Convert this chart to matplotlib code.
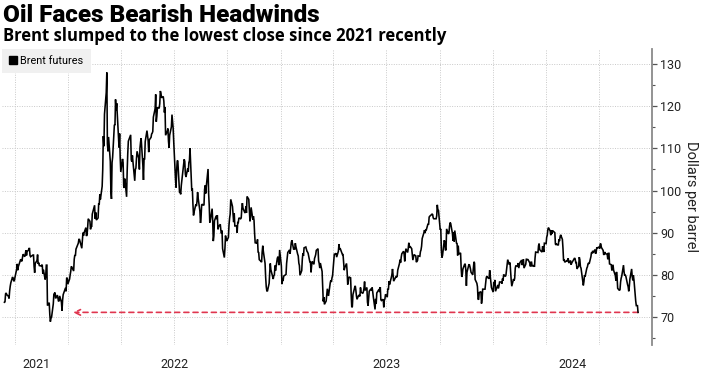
import numpy as np
import pandas as pd
import matplotlib
matplotlib.use("Agg")
import matplotlib.pyplot as plt
import matplotlib.dates as mdates
from matplotlib.lines import Line2D
from matplotlib.ticker import MultipleLocator

# ---------------- data ----------------
title = "Oil Faces Bearish Headwinds"
subtitle = "Brent slumped to the lowest close since 2021 recently"
series_name = "Brent futures"
y_label = "Dollars per barrel"

first_day = "2021-09-13"
last_day = "2024-09-06"
view_start = "2021-09-08"
view_end = "2024-09-30"
lowest_since = "2022-01-09"
year_labels = [2021, 2022, 2023, 2024]
y_ticks = [70, 80, 90, 100, 110, 120, 130]

# closing prices, one list per month (Sep 2021 starts on the 13th)
brent_2021 = [
    [73.5, 73.6, 75.5, 75.7, 75.3, 74.9, 74.4, 76.2, 77.3, 78.1, 79.5, 79.1, 78.6, 78.5],
    [79.3, 81.3, 82.6, 81.1, 82.0, 82.4, 83.7, 83.4, 83.2, 84.0, 84.9, 84.3, 85.1, 85.8,
     84.6, 85.5, 86.0, 86.4, 84.6, 84.3, 84.4],
    [84.7, 84.7, 82.0, 80.5, 82.7, 83.4, 84.8, 82.6, 82.9, 82.2, 82.1, 82.4, 80.3, 81.2,
     78.9, 79.7, 82.3, 82.3, 72.7, 73.4, 70.6],
    [68.9, 69.7, 69.9, 73.1, 75.4, 75.8, 74.4, 75.2, 74.4, 73.7, 73.9, 75.0, 73.5, 71.5,
     74.0, 75.3, 76.9, 76.1, 79.2, 79.3, 77.8],
]
brent_2022 = [
    [79.0, 80.0, 80.8, 82.0, 81.8, 80.9, 83.7, 84.7, 84.5, 86.1, 87.5, 88.4, 88.4, 87.9,
     86.3, 88.2, 90.0, 89.3, 90.0, 91.2],
    [89.2, 89.5, 91.1, 93.3, 92.7, 90.8, 91.6, 91.4, 94.4, 96.5, 93.3, 94.8, 93.0, 93.5,
     96.8, 96.8, 99.1, 97.9, 101.0],
    [105.0, 112.9, 110.5, 118.1, 123.2, 128.0, 111.1, 109.3, 112.7, 106.9, 99.9, 98.0,
     106.6, 107.9, 115.6, 115.5, 121.6, 119.0, 120.7, 112.5, 110.2, 113.5, 107.9],
    [104.4, 107.5, 106.6, 101.1, 100.6, 102.8, 98.5, 104.6, 108.8, 111.7, 113.2, 107.3,
     106.8, 108.3, 106.7, 102.3, 105.0, 105.3, 107.6, 109.3],
    [107.6, 105.0, 110.1, 111.5, 112.4, 105.9, 102.5, 107.5, 107.5, 111.6, 114.2, 111.9,
     109.1, 112.0, 112.6, 113.4, 113.6, 114.0, 117.4, 119.4, 122.8],
    [116.3, 117.6, 119.7, 119.5, 120.6, 123.6, 123.1, 122.0, 122.3, 121.2, 118.5, 119.8,
     113.1, 114.1, 114.7, 111.7, 110.1, 113.1, 115.1, 118.0, 116.3, 114.8],
    [111.6, 102.8, 100.7, 104.7, 107.0, 107.1, 99.5, 99.6, 99.1, 101.2, 106.3, 107.4,
     106.9, 103.9, 103.2, 105.2, 104.4, 106.6, 107.1, 110.0],
    [100.0, 100.5, 96.8, 94.1, 94.9, 96.7, 96.3, 97.4, 99.6, 98.2, 95.1, 92.3, 93.7,
     96.6, 96.7, 96.5, 100.2, 101.2, 99.3, 101.0, 105.1, 99.3, 96.5],
    [92.4, 93.0, 95.7, 92.8, 88.0, 89.2, 92.8, 94.0, 93.2, 94.1, 90.8, 91.4, 92.0, 90.6,
     89.8, 90.5, 86.2, 84.1, 86.3, 89.3, 88.5, 88.0],
    [88.9, 91.8, 93.4, 94.4, 97.9, 96.2, 94.3, 92.5, 94.6, 91.6, 91.6, 90.0, 92.4, 92.4,
     93.5, 93.3, 93.5, 95.7, 97.0, 95.8, 94.8],
    [94.7, 96.2, 94.7, 98.6, 97.9, 95.4, 92.7, 93.7, 96.0, 93.1, 93.9, 92.9, 89.8, 87.6,
     87.5, 88.4, 85.4, 85.3, 83.6, 83.2, 83.0, 85.4],
    [86.9, 85.6, 82.7, 79.4, 77.2, 76.2, 76.1, 78.0, 80.7, 82.7, 81.2, 79.0, 79.8, 80.0,
     82.2, 81.0, 83.9, 84.3, 83.3, 82.3, 85.9],
]
brent_2023 = [
    [82.1, 77.8, 78.7, 78.6, 79.7, 80.1, 82.7, 84.0, 85.3, 85.9, 85.0, 86.2, 87.6, 88.2,
     86.1, 86.1, 87.5, 86.7, 84.9, 84.5],
    [82.8, 82.2, 79.9, 81.0, 83.7, 85.1, 84.5, 86.4, 86.6, 85.6, 85.4, 85.1, 83.0, 83.1,
     80.6, 82.2, 83.2, 82.5, 83.9],
    [84.3, 84.8, 85.8, 86.2, 83.3, 82.7, 81.6, 82.8, 80.8, 77.5, 73.7, 74.7, 73.0, 73.8,
     75.3, 76.7, 75.9, 75.0, 78.1, 78.7, 78.3, 79.3, 79.8],
    [84.9, 84.9, 85.0, 85.1, 84.2, 85.6, 87.3, 86.1, 86.3, 84.8, 84.8, 83.1, 81.1, 81.7,
     82.7, 80.8, 77.7, 78.4, 79.5],
    [79.3, 75.3, 72.3, 72.5, 75.3, 77.0, 77.4, 76.4, 75.0, 74.2, 75.2, 74.9, 77.0, 75.9,
     75.6, 76.0, 76.8, 78.4, 76.3, 77.0, 73.5, 72.7],
    [74.3, 76.1, 76.7, 76.3, 77.0, 76.0, 74.8, 71.8, 74.3, 73.2, 75.7, 76.6, 75.9, 77.1,
     74.1, 73.9, 74.2, 72.3, 74.0, 74.3, 75.4],
    [74.7, 76.7, 76.5, 78.5, 77.7, 79.4, 80.1, 81.4, 79.9, 78.5, 79.6, 79.5, 79.6, 81.1,
     82.7, 83.6, 82.9, 84.2, 85.0, 85.6],
    [84.9, 83.2, 85.1, 86.2, 85.3, 86.2, 87.6, 86.4, 86.8, 86.2, 84.9, 83.5, 84.1, 84.8,
     84.5, 83.0, 83.2, 83.4, 84.5, 84.4, 85.5, 85.9, 86.8],
    [88.6, 90.0, 90.6, 89.9, 90.7, 90.6, 92.1, 91.9, 93.7, 93.9, 94.4, 94.3, 93.5, 93.3,
     93.3, 93.3, 94.0, 96.6, 95.4, 95.3],
    [90.7, 90.9, 85.8, 84.1, 84.6, 88.2, 87.7, 85.8, 86.0, 90.9, 89.7, 89.9, 91.5, 92.4,
     92.2, 89.8, 88.1, 90.1, 87.9, 90.5, 87.5, 87.4],
    [84.6, 86.9, 84.9, 85.2, 81.6, 79.5, 80.0, 81.4, 82.5, 82.5, 81.2, 77.4, 80.6, 82.3,
     82.5, 82.0, 81.4, 80.6, 80.0, 81.7, 83.1, 82.8],
    [78.9, 78.0, 77.2, 74.3, 74.1, 75.8, 76.0, 73.2, 74.3, 76.6, 76.6, 78.0, 79.2, 79.7,
     79.4, 79.1, 81.1, 79.7, 78.4, 77.0],
]
brent_2024 = [
    [75.9, 78.3, 77.6, 78.8, 76.1, 77.6, 76.8, 77.4, 78.3, 78.3, 77.9, 79.1, 78.6, 80.1,
     79.6, 80.0, 82.4, 83.6, 82.4, 82.9, 80.6],
    [78.7, 77.3, 79.0, 78.6, 79.2, 81.6, 82.2, 82.0, 82.8, 81.6, 82.9, 83.5, 82.3, 83.0,
     83.7, 81.6, 82.5, 83.7, 83.7, 83.6],
    [83.6, 82.8, 82.0, 83.0, 83.0, 82.1, 82.2, 81.9, 84.0, 85.4, 85.3, 86.9, 87.4, 86.0,
     85.8, 85.4, 86.8, 86.3, 85.4, 87.5],
    [87.4, 88.9, 89.4, 90.7, 91.2, 90.4, 89.4, 90.5, 89.7, 90.5, 90.1, 90.0, 87.3, 87.1,
     87.3, 87.0, 88.4, 88.0, 89.0, 89.5, 88.4, 86.3],
    [83.4, 83.7, 83.0, 83.3, 83.2, 83.6, 83.9, 82.8, 83.4, 82.4, 82.8, 83.3, 84.0, 83.7,
     82.9, 82.9, 81.4, 82.1, 84.2, 83.6, 81.9, 81.6],
    [78.4, 77.5, 78.4, 79.9, 79.6, 81.6, 81.9, 82.6, 82.8, 82.6, 84.3, 85.3, 85.1, 85.7,
     85.2, 86.0, 85.0, 85.3, 86.4, 86.4],
    [86.6, 86.2, 87.3, 87.4, 86.5, 85.8, 84.7, 85.1, 85.4, 85.0, 84.9, 83.7, 85.1, 85.1,
     82.6, 82.4, 81.0, 81.7, 82.4, 81.1, 79.8, 78.6, 80.7],
    [79.5, 76.8, 76.3, 76.5, 78.3, 79.2, 79.7, 82.3, 80.7, 79.8, 80.0, 79.7, 77.7, 77.2,
     76.1, 77.2, 79.0, 81.4, 79.6, 78.7, 79.9, 78.8],
    [73.8, 72.7, 72.7, 71.1],
]
series_by_year = {2021: (9, brent_2021), 2022: (1, brent_2022),
                  2023: (1, brent_2023), 2024: (1, brent_2024)}

# ------------- build the time series -------------
t_first = pd.Timestamp(first_day)
t_last = pd.Timestamp(last_day)
dates, prices = [], []
for yr, (m0, months) in series_by_year.items():
    for k, vals in enumerate(months):
        ms = pd.Timestamp(yr, m0 + k, 1)
        me = ms + pd.offsets.MonthEnd(0)
        bd = pd.bdate_range(max(ms, t_first), min(me, t_last))
        idx = np.linspace(0, len(bd) - 1, len(vals)).round().astype(int)
        dates.extend(bd[idx])
        prices.extend(vals)
dates = pd.DatetimeIndex(dates)
prices = np.array(prices)

# ---------------- figure ----------------
W, H = 709, 376
fig = plt.figure(figsize=(W / 100, H / 100), dpi=100)
fig.patch.set_facecolor("white")
ax = fig.add_axes([1.5 / W, 1 - 345 / H, (652 - 1.5) / W, (345 - 49) / H])

FONT = ["Roboto", "DejaVu Sans"]
SUB_FONT = ["Open Sans", "DejaVu Sans"]
LINE_RED = "#e0364f"

ax.plot(dates, prices, color="black", lw=1.15, solid_joinstyle="miter", zorder=3)

# dashed red arrow: last close back to the date it was last that low
ax.annotate("", xy=(pd.Timestamp(lowest_since), prices[-1]),
            xytext=(dates[-1], prices[-1]),
            arrowprops=dict(arrowstyle="->", color=LINE_RED, lw=1.2,
                            linestyle=(0, (3, 2.5)), shrinkA=0, shrinkB=0,
                            mutation_scale=10),
            zorder=2)

ax.set_xlim(pd.Timestamp(view_start), pd.Timestamp(view_end))
ax.set_ylim(63.36, 133.56)

# grid
ax.yaxis.set_major_locator(plt.FixedLocator(y_ticks))
ax.yaxis.set_minor_locator(MultipleLocator(5))
ax.xaxis.set_major_locator(mdates.MonthLocator(bymonth=[1, 4, 7, 10]))
ax.grid(True, which="major", axis="both", color="#c9c9c9", lw=0.7,
        linestyle=(0, (1, 1.5)))
ax.set_axisbelow(True)

for s in ["left", "top", "bottom"]:
    ax.spines[s].set_visible(False)
ax.spines["right"].set_color("#8a8a8a")
ax.spines["right"].set_linewidth(1.3)

ax.yaxis.tick_right()
ax.tick_params(axis="y", which="major", length=3.5, width=0.9, color="#555555",
               pad=2.5, labelsize=9, labelcolor="#222222")
ax.tick_params(axis="y", which="minor", length=2.5, width=0.8, color="#555555")
ax.tick_params(axis="x", which="both", length=0, labelbottom=False)
for lab in ax.get_yticklabels():
    lab.set_fontfamily(FONT)

ax.yaxis.set_label_position("right")
ax.set_ylabel(y_label, rotation=270, fontsize=10.5, family=FONT, labelpad=12,
              color="#222222")

# year labels centred on the visible part of each year
vs, ve = pd.Timestamp(view_start), pd.Timestamp(view_end)
for yr in year_labels:
    a = max(pd.Timestamp(yr, 1, 1), t_first)
    b = min(pd.Timestamp(yr + 1, 1, 1), ve)
    c = a + (b - a) / 2
    ax.text(c, -0.065, str(yr), transform=ax.get_xaxis_transform(),
            ha="center", va="center", fontsize=9, family=FONT, color="#222222")

# legend
leg = ax.legend(handles=[Line2D([], [], marker="s", color="black", linestyle="none",
                                markersize=5.5)],
                labels=[series_name], loc="upper left", bbox_to_anchor=(0.0015, 1.0),
                frameon=True, facecolor="#f0f0f0", edgecolor="none", framealpha=1,
                fancybox=False, handlelength=0.7, handletextpad=0.3,
                borderpad=0.65, borderaxespad=0.0, prop=dict(family=FONT, size=7.8))

# titles
fig.text(3 / W, 1 - 15.5 / H, title, fontsize=17.5, fontweight="black",
         family=FONT, ha="left", va="center", color="black")
fig.text(3 / W, 1 - 36 / H, subtitle, fontsize=12, fontweight="bold",
         family=SUB_FONT, ha="left", va="center", color="black")

fig.savefig("out.png", dpi=100, facecolor="white")
